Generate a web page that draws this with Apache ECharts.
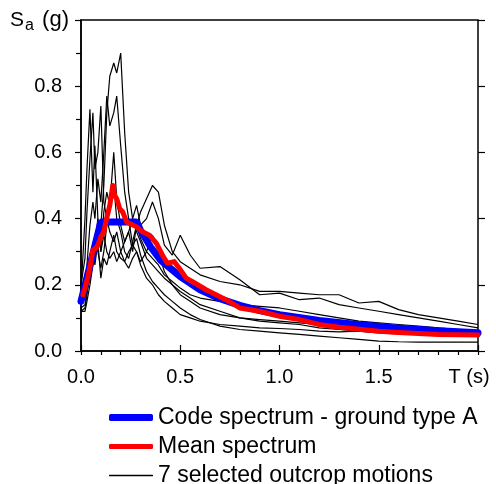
<!DOCTYPE html>
<html>
<head>
<meta charset="utf-8">
<script src="https://cdn.jsdelivr.net/npm/echarts@6/dist/echarts.min.js"></script>
<style>
html, body { margin: 0; padding: 0; background: #fff; }
#chart { width: 496px; height: 484px; }
</style>
</head>
<body>
<div id="chart"></div>
<script>
// periods T (s) of the 7 records
const periods = [0, 0.02, 0.03, 0.045, 0.06, 0.07, 0.085, 0.1, 0.115, 0.13, 0.145, 0.165, 0.18, 0.2, 0.22, 0.24, 0.26, 0.28, 0.3, 0.33, 0.36, 0.39, 0.42, 0.46, 0.5, 0.55, 0.6, 0.7, 0.8, 0.9, 1.0, 1.1, 1.2, 1.3, 1.4, 1.5, 1.6, 1.7, 1.8, 1.9, 2.0]

// Sa (g) of the 7 selected outcrop motions
const record1 = [0.14, 0.16, 0.20, 0.26, 0.30, 0.28, 0.34, 0.38, 0.50, 0.72, 0.83, 0.87, 0.84, 0.90, 0.66, 0.48, 0.40, 0.36, 0.33, 0.28, 0.26, 0.24, 0.22, 0.20, 0.18, 0.16, 0.14, 0.12, 0.10, 0.09, 0.085, 0.08, 0.07, 0.065, 0.06, 0.055, 0.052, 0.05, 0.048, 0.046, 0.045]
const record2 = [0.16, 0.20, 0.26, 0.38, 0.45, 0.40, 0.52, 0.45, 0.60, 0.77, 0.68, 0.72, 0.77, 0.62, 0.48, 0.40, 0.32, 0.30, 0.27, 0.30, 0.35, 0.30, 0.24, 0.20, 0.17, 0.15, 0.13, 0.11, 0.10, 0.095, 0.09, 0.085, 0.08, 0.075, 0.07, 0.065, 0.06, 0.058, 0.056, 0.054, 0.052]
const record3 = [0.18, 0.40, 0.55, 0.73, 0.48, 0.62, 0.40, 0.30, 0.42, 0.48, 0.44, 0.60, 0.46, 0.38, 0.33, 0.36, 0.30, 0.38, 0.34, 0.30, 0.28, 0.26, 0.23, 0.21, 0.19, 0.17, 0.16, 0.15, 0.14, 0.135, 0.13, 0.12, 0.11, 0.10, 0.09, 0.085, 0.08, 0.075, 0.07, 0.065, 0.06]
const record4 = [0.13, 0.14, 0.18, 0.22, 0.28, 0.34, 0.30, 0.25, 0.30, 0.38, 0.45, 0.50, 0.40, 0.36, 0.30, 0.28, 0.33, 0.38, 0.42, 0.46, 0.50, 0.48, 0.38, 0.30, 0.27, 0.25, 0.23, 0.21, 0.20, 0.18, 0.18, 0.175, 0.17, 0.17, 0.145, 0.15, 0.125, 0.11, 0.10, 0.09, 0.08]
const record5 = [0.12, 0.12, 0.15, 0.20, 0.26, 0.32, 0.40, 0.30, 0.35, 0.30, 0.28, 0.30, 0.27, 0.30, 0.33, 0.36, 0.40, 0.44, 0.38, 0.40, 0.45, 0.40, 0.32, 0.29, 0.35, 0.29, 0.25, 0.255, 0.215, 0.17, 0.175, 0.155, 0.16, 0.14, 0.13, 0.12, 0.11, 0.10, 0.09, 0.08, 0.07]
const record6 = [0.12, 0.13, 0.17, 0.24, 0.30, 0.26, 0.33, 0.22, 0.28, 0.26, 0.30, 0.35, 0.30, 0.28, 0.27, 0.30, 0.32, 0.34, 0.29, 0.24, 0.21, 0.19, 0.17, 0.15, 0.13, 0.11, 0.095, 0.075, 0.065, 0.06, 0.055, 0.05, 0.045, 0.04, 0.035, 0.03, 0.028, 0.027, 0.027, 0.027, 0.027]
const record7 = [0.20, 0.28, 0.42, 0.58, 0.72, 0.55, 0.60, 0.74, 0.45, 0.40, 0.36, 0.33, 0.36, 0.30, 0.27, 0.25, 0.28, 0.30, 0.26, 0.22, 0.20, 0.17, 0.15, 0.13, 0.11, 0.10, 0.09, 0.08, 0.075, 0.07, 0.068, 0.065, 0.06, 0.058, 0.06, 0.056, 0.053, 0.05, 0.05, 0.05, 0.05]
const records = [record1, record2, record3, record4, record5, record6, record7]

// code spectrum - ground type A
const codeT = [0, 0.1, 0.28, 0.3, 0.35, 0.4, 0.5, 0.6, 0.7, 0.8, 0.9, 1.0, 1.2, 1.4, 1.6, 1.8, 2.0]
const codeSa = [0.15, 0.39, 0.39, 0.365, 0.315, 0.275, 0.225, 0.185, 0.158, 0.138, 0.122, 0.11, 0.092, 0.079, 0.069, 0.061, 0.055]

// mean spectrum
const meanT = [0.01, 0.02, 0.035, 0.05, 0.06, 0.075, 0.085, 0.1, 0.115, 0.125, 0.145, 0.16, 0.17, 0.18, 0.195, 0.21, 0.23, 0.28, 0.31, 0.345, 0.38, 0.41, 0.435, 0.47, 0.495, 0.53, 0.56, 0.63, 0.73, 0.8, 0.9, 1.0, 1.1, 1.2, 1.3, 1.4, 1.5, 1.6, 1.7, 1.8, 1.9, 2.0]
const meanSa = [0.17, 0.19, 0.225, 0.27, 0.305, 0.31, 0.32, 0.345, 0.36, 0.39, 0.44, 0.5, 0.47, 0.46, 0.43, 0.42, 0.39, 0.375, 0.36, 0.35, 0.325, 0.29, 0.265, 0.27, 0.25, 0.22, 0.21, 0.185, 0.155, 0.13, 0.12, 0.105, 0.095, 0.08, 0.072, 0.066, 0.06, 0.056, 0.053, 0.05, 0.049, 0.048]

// tick labels
const xTickValues = [0, 0.5, 1, 1.5, 2]
const xTickLabels = ['0.0', '0.5', '1.0', '1.5', 'T (s)']
const yTickValues = [0, 0.2, 0.4, 0.6, 0.8, 1]
const yTickLabels = ['0.0', '0.2', '0.4', '0.6', '0.8', 'Sa (g)']

const names = ['Code spectrum - ground type A', 'Mean spectrum', '7 selected outcrop motions']
const font = "'Liberation Sans', Arial, sans-serif"

// plot box in pixels
const gridLeft = 81, gridRight = 18, gridTop = 20, gridBottom = 133
const chartW = 496, chartH = 484

function pairs(xs, ys) {
    return xs.map((x, i) => [x, ys[i]])
}
function tickIndex(list, v) {
    return list.findIndex(t => Math.abs(t - v) < 1e-6)
}

let series = records.map(r => ({
    name: names[2],
    type: 'line',
    data: pairs(periods, r),
    symbol: 'none',
    lineStyle: { color: '#000', width: 1.2 },
    itemStyle: { color: '#000' },
    z: 1
}))
series.push({
    name: names[0],
    type: 'line',
    data: pairs(codeT, codeSa),
    symbol: 'none',
    lineStyle: { color: '#0000ff', width: 7, cap: 'round' },
    itemStyle: { color: '#0000ff' },
    z: 2
})
series.push({
    name: names[1],
    type: 'line',
    data: pairs(meanT, meanSa),
    symbol: 'none',
    lineStyle: { color: '#ff0000', width: 5, cap: 'round', join: 'round' },
    itemStyle: { color: '#ff0000' },
    z: 3
})

// one legend per entry so each keeps its own line thickness
function legendRow(name, top, thick, color) {
    return {
        orient: 'vertical',
        left: 109,
        top: top,
        padding: 0,
        icon: 'roundRect',
        itemWidth: 44,
        itemHeight: thick,
        data: [name],
        itemStyle: { color: color },
        textStyle: { fontSize: 23, color: '#000', fontFamily: font }
    }
}

const tickStyle = { color: '#000', width: 1.2 }
const plotW = chartW - gridLeft - gridRight
const plotH = chartH - gridTop - gridBottom

let myChart = echarts.init(document.getElementById('chart'))
myChart.setOption({
    animation: false,
    backgroundColor: '#fff',
    textStyle: { fontFamily: font },
    grid: {
        left: gridLeft,
        right: gridRight,
        top: gridTop,
        bottom: gridBottom,
        show: true,
        borderColor: '#000',
        borderWidth: 1.5,
        outerBoundsMode: 'none'
    },
    legend: [
        legendRow(names[0], 406, 7, '#0000ff'),
        legendRow(names[1], 435, 5, '#ff0000'),
        legendRow(names[2], 464, 1.5, '#000')
    ],
    xAxis: [{
        type: 'value',
        position: 'bottom',
        min: 0,
        max: 2,
        interval: 0.5,
        axisLine: { lineStyle: { color: '#000', width: 1.5 } },
        axisTick: { inside: false, length: 4, lineStyle: tickStyle },
        minorTick: { show: true, splitNumber: 5, length: 4, lineStyle: tickStyle },
        splitLine: { show: false },
        axisLabel: {
            margin: 16,
            fontSize: 20,
            color: '#000',
            formatter: function (v) {
                let i = tickIndex(xTickValues, v)
                if (i === xTickValues.length - 1) return '{t|' + xTickLabels[i] + '}'
                return i >= 0 ? xTickLabels[i] : ''
            },
            rich: {
                t: { fontSize: 20, color: '#000', padding: [0, 18, 0, 0] }
            }
        }
    }, {
        // inner half of the major ticks: a top axis moved down onto the bottom edge
        type: 'value',
        position: 'top',
        offset: -plotH,
        min: 0,
        max: 2,
        interval: 0.5,
        axisLine: { show: false },
        axisTick: { inside: false, length: 6, lineStyle: tickStyle },
        axisLabel: { show: false },
        splitLine: { show: false }
    }],
    yAxis: [{
        type: 'value',
        position: 'left',
        min: 0,
        max: 1,
        interval: 0.2,
        axisLine: { lineStyle: { color: '#000', width: 1.5 } },
        axisTick: { inside: false, length: 6, lineStyle: tickStyle },
        minorTick: { show: true, splitNumber: 2, length: 5, lineStyle: tickStyle },
        splitLine: { show: false },
        axisLabel: {
            margin: 12,
            fontSize: 20,
            color: '#000',
            formatter: function (v) {
                let i = tickIndex(yTickValues, v)
                if (i < 0) return ''
                if (i === yTickValues.length - 1) {
                    let txt = yTickLabels[i]
                    return '{s|' + txt.charAt(0) + '}{sub|' + txt.charAt(1) + '}{g|' + txt.slice(2) + '}'
                }
                return '{n|' + yTickLabels[i] + '}'
            },
            rich: {
                n: { fontSize: 20, color: '#000', padding: [0, 7, 0, 0] },
                s: { fontSize: 21, lineHeight: 28, color: '#000' },
                g: { fontSize: 22, lineHeight: 28, color: '#000', padding: [0, 0, 0, 2] },
                sub: { fontSize: 16, lineHeight: 16, color: '#000', verticalAlign: 'bottom', padding: [0, 0, 0, 1] }
            }
        }
    }, {
        // inner half of the major ticks: a right axis moved onto the left edge
        type: 'value',
        position: 'right',
        offset: -plotW,
        min: 0,
        max: 1,
        interval: 0.2,
        axisLine: { show: false },
        axisTick: { inside: false, length: 7, lineStyle: tickStyle },
        axisLabel: { show: false },
        splitLine: { show: false }
    }],
    series: series
})
</script>
</body>
</html>
